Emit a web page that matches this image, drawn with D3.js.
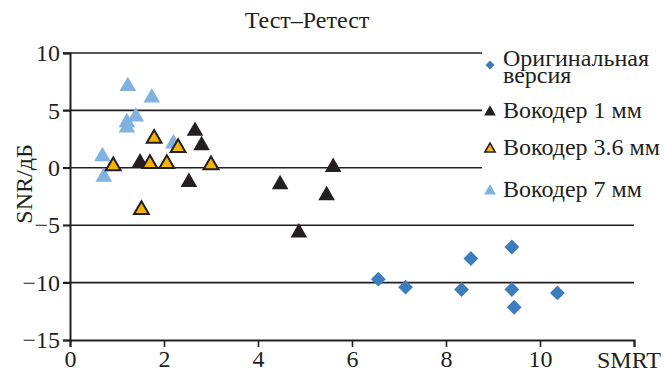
<!DOCTYPE html>
<html>
<head>
<meta charset="utf-8">
<script src="https://cdn.jsdelivr.net/npm/d3@7"></script>
<style>
  body { margin: 0; background: #fff; }
  svg text { font-family: "Liberation Serif", "Times New Roman", serif; fill: #231f20; }
</style>
</head>
<body>
<figure id="scatter" style="margin:0"></figure>
<script>
// SMRT vs SNR (dB), test-retest
const seriesNames = ["Оригинальная версия", "Вокодер 1 мм", "Вокодер 3.6 мм", "Вокодер 7 мм"];

const original = [
  [6.56, -9.7], [7.14, -10.4], [8.33, -10.6], [8.53, -7.9],
  [9.40, -6.9], [9.40, -10.6], [9.45, -12.15], [10.37, -10.9]
];
const vocoder1 = [
  [1.49, 0.45], [2.66, 3.2], [2.80, 1.95], [2.53, -1.25],
  [4.47, -1.45], [4.87, -5.65], [5.46, -2.4], [5.60, 0.05]
];
const vocoder36 = [
  [0.92, 0.15], [1.70, 0.35], [2.06, 0.35], [3.00, 0.25],
  [1.79, 2.55], [2.30, 1.75], [1.52, -3.65]
];
const vocoder7 = [
  [1.23, 7.1], [1.74, 6.1], [1.40, 4.45], [1.21, 3.95],
  [1.21, 3.5], [2.20, 2.1], [0.69, 1.0], [0.72, -0.8]
];

const xTicks = [0, 2, 4, 6, 8, 10, 12];
const yTicks = [-15, -10, -5, 0, 5, 10];

const width = 664, height = 372;
const margin = { left: 70, right: 30, top: 53, bottom: 32 };

const svg = d3.select("figure#scatter")
  .append("svg")
  .attr("width", width)
  .attr("height", height);

const x = d3.scaleLinear().domain([0, 12]).range([margin.left, width - margin.right]);
const y = d3.scaleLinear().domain([-15, 10]).range([height - margin.bottom, margin.top]);

const fmt = d => d < 0 ? "\u2212" + Math.abs(d) : String(d);

// horizontal grid lines
svg.append("g")
  .selectAll("line")
  .data(yTicks.filter(d => d > -15))
  .enter()
  .append("line")
  .attr("x1", x(0) - 7)
  .attr("x2", x(12))
  .attr("y1", d => y(d))
  .attr("y2", d => y(d))
  .attr("stroke", "#231f20")
  .attr("stroke-width", 1.6);

// Y axis
const yAxis = svg.append("g")
  .attr("transform", "translate(" + x(0) + ",0)")
  .call(d3.axisLeft(y).tickValues(yTicks).tickFormat(fmt).tickSize(7).tickPadding(3));
yAxis.select(".domain").attr("stroke", "#231f20").attr("stroke-width", 2);
yAxis.selectAll(".tick line").attr("stroke", "#231f20").attr("stroke-width", 1.6);
yAxis.selectAll(".tick text").attr("font-size", 24).attr("font-family", null).attr("fill", null);

// X axis
const xAxis = svg.append("g")
  .attr("transform", "translate(0," + y(-15) + ")")
  .call(d3.axisBottom(x).tickValues(xTicks).tickFormat(d => d === 12 ? "" : d).tickSizeOuter(0).tickSize(7).tickPadding(3));
xAxis.select(".domain").attr("stroke", "#231f20").attr("stroke-width", 2);
xAxis.selectAll(".tick line").attr("stroke", "#231f20").attr("stroke-width", 1.6);
xAxis.selectAll(".tick text").attr("font-size", 24).attr("font-family", null).attr("fill", null);

// axis titles
svg.append("text")
  .attr("x", 597).attr("y", 368)
  .attr("font-size", 24)
  .text("SMRT");

svg.append("text")
  .attr("transform", "translate(32,184) rotate(-90)")
  .attr("text-anchor", "middle")
  .attr("font-size", 24)
  .text("SNR/дБ");

svg.append("text")
  .attr("x", 307).attr("y", 28)
  .attr("text-anchor", "middle")
  .attr("font-size", 24)
  .text("Тест–Ретест");

// points
const triangle = d3.symbol().type(d3.symbolTriangle);
const diamond = d3.symbol().type(d3.symbolSquare);

const styles = [
  { data: original, fill: "#3e7dbd", stroke: "none", sym: diamond, size: 110, rot: 45 },
  { data: vocoder7, fill: "#7fb2df", stroke: "none", sym: triangle, size: 120, rot: 0 },
  { data: vocoder1, fill: "#231f20", stroke: "none", sym: triangle, size: 120, rot: 0 },
  { data: vocoder36, fill: "#f6b400", stroke: "#231f20", sym: triangle, size: 95, rot: 0 }
];

styles.forEach(s => {
  svg.append("g")
    .selectAll("path")
    .data(s.data)
    .enter()
    .append("path")
    .attr("d", s.sym.size(s.size)())
    .attr("transform", d => "translate(" + x(d[0]) + "," + y(d[1]) + ") rotate(" + s.rot + ")")
    .attr("fill", s.fill)
    .attr("stroke", s.stroke)
    .attr("stroke-width", 2)
    .attr("stroke-linejoin", "miter");
});

// legend (white box hides the grid lines behind it)
const legend = svg.append("g");
legend.append("rect")
  .attr("x", 482).attr("y", 44)
  .attr("width", 182).attr("height", 160)
  .attr("fill", "#fff");

const legendItems = [
  { label: ["Оригинальная", "версия"], fill: "#3e7dbd", stroke: "none", sym: diamond, size: 40, rot: 45, cy: 65, ty: 66 },
  { label: ["Вокодер 1 мм"], fill: "#231f20", stroke: "none", sym: triangle, size: 60, rot: 0, cy: 112, ty: 118 },
  { label: ["Вокодер 3.6 мм"], fill: "#f6b400", stroke: "#231f20", sym: triangle, size: 45, rot: 0, cy: 149, ty: 155 },
  { label: ["Вокодер 7 мм"], fill: "#7fb2df", stroke: "none", sym: triangle, size: 60, rot: 0, cy: 191, ty: 197 }
];

legendItems.forEach(it => {
  legend.append("path")
    .attr("d", it.sym.size(it.size)())
    .attr("transform", "translate(490," + it.cy + ") rotate(" + it.rot + ")")
    .attr("fill", it.fill)
    .attr("stroke", it.stroke)
    .attr("stroke-width", 1.6);
  const t = legend.append("text")
    .attr("x", 503).attr("y", it.ty)
    .attr("font-size", 24);
  it.label.forEach((l, i) => {
    t.append("tspan").attr("x", 503).attr("dy", i === 0 ? 0 : 17).text(l);
  });
});
</script>
</body>
</html>
